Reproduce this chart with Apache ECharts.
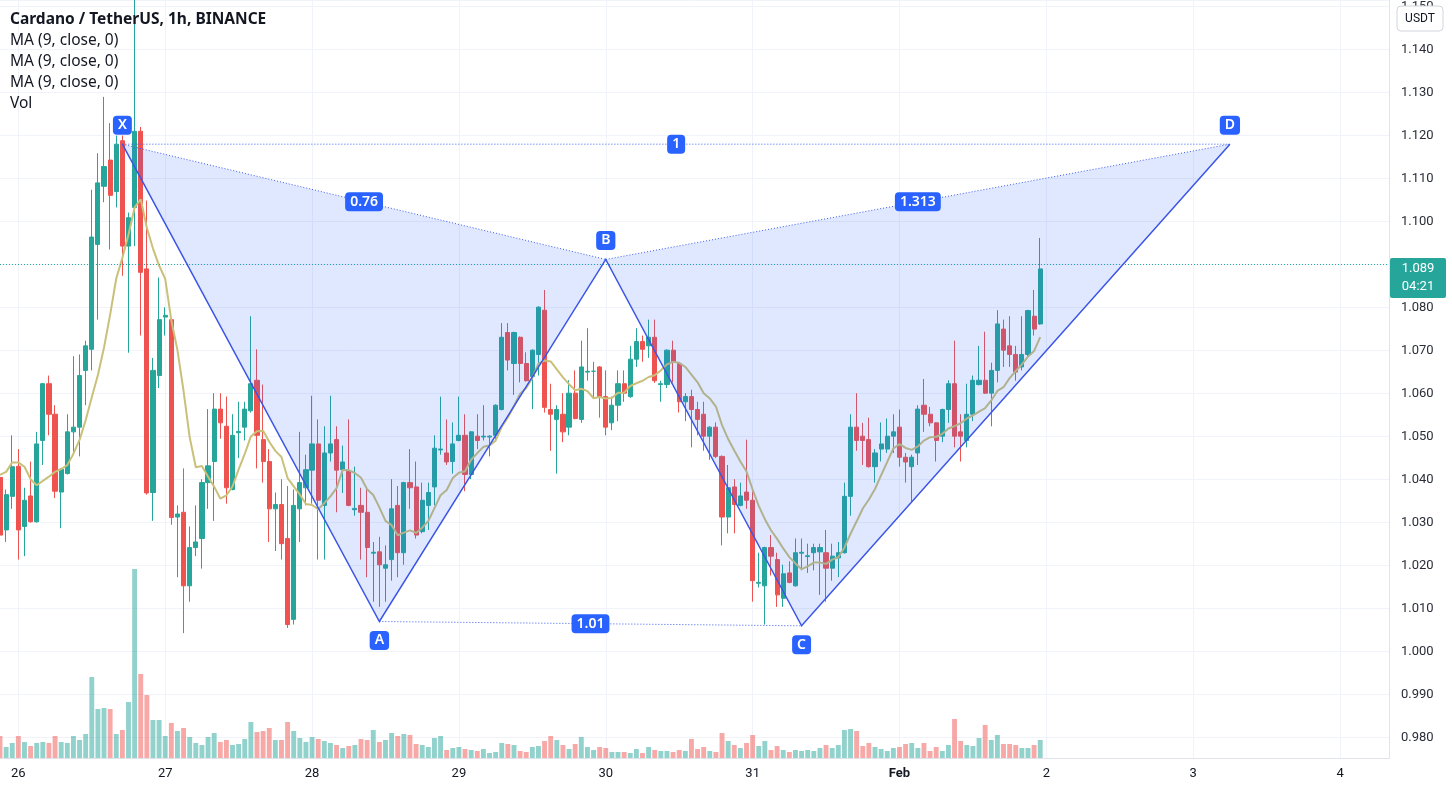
<!DOCTYPE html>
<html><head><meta charset="utf-8">
<script src="https://cdn.jsdelivr.net/npm/echarts@6/dist/echarts.min.js"></script>
<style>html,body{margin:0;padding:0;background:#fff}#c{width:1452px;height:792px}</style>
</head><body><div id="c"></div>
<script>
// ---- data (1h candles, Jan 25 21:00 -> Feb 1 23:00) ----
const opens = [1.0405,1.0283,1.0361,1.0431,1.0291,1.0362,1.0302,1.0491,1.0623,1.0552,
1.0371,1.0414,1.0511,1.0522,1.0654,1.0703,1.0947,1.1082,1.1143,1.1070,
1.1188,1.0943,1.1033,1.1210,1.0890,1.0370,1.0642,1.0778,1.0772,1.0313,
1.0324,1.0153,1.0242,1.0263,1.0393,1.0442,1.0564,1.0524,1.0377,1.0509,
1.0522,1.0560,1.0631,1.0493,1.0442,1.0332,1.0342,1.0263,1.0075,1.0332,
1.0381,1.0422,1.0483,1.0340,1.0462,1.0493,1.0423,1.0419,1.0330,1.0340,
1.0324,1.0229,1.0232,1.0194,1.0214,1.0340,1.0230,1.0393,1.0383,1.0279,
1.0340,1.0383,1.0469,1.0462,1.0442,1.0491,1.0503,1.0412,1.0501,1.0499,
1.0499,1.0503,1.0563,1.0742,1.0670,1.0731,1.0670,1.0640,1.0691,1.0794,
1.0563,1.0540,1.0552,1.0522,1.0601,1.0540,1.0650,1.0652,1.0662,1.0593,
1.0532,1.0573,1.0623,1.0593,1.0680,1.0721,1.0711,1.0731,1.0621,1.0621,
1.0701,1.0670,1.0581,1.0593,1.0563,1.0552,1.0501,1.0522,1.0454,1.0313,
1.0383,1.0340,1.0371,1.0352,1.0159,1.0153,1.0242,1.0214,1.0124,1.0183,
1.0153,1.0229,1.0221,1.0230,1.0232,1.0230,1.0194,1.0218,1.0230,1.0361,
1.0522,1.0501,1.0493,1.0430,1.0471,1.0471,1.0501,1.0522,1.0452,1.0430,
1.0462,1.0573,1.0552,1.0532,1.0501,1.0563,1.0623,1.0511,1.0491,1.0552,
1.0621,1.0631,1.0601,1.0654,1.0750,1.0711,1.0691,1.0662,1.0691,1.0780,
1.0762];
const closes = [1.0271,1.0365,1.0430,1.0283,1.0352,1.0302,1.0483,1.0623,1.0552,1.0373,
1.0424,1.0511,1.0522,1.0642,1.0711,1.0964,1.1090,1.1128,1.1061,1.1180,
1.0943,1.1009,1.1210,1.0882,1.0369,1.0654,1.0772,1.0782,1.0312,1.0320,
1.0153,1.0242,1.0255,1.0393,1.0432,1.0564,1.0532,1.0381,1.0503,1.0512,
1.0564,1.0623,1.0503,1.0442,1.0332,1.0342,1.0251,1.0063,1.0340,1.0393,
1.0423,1.0483,1.0352,1.0462,1.0483,1.0422,1.0441,1.0340,1.0333,1.0324,
1.0242,1.0231,1.0202,1.0202,1.0332,1.0230,1.0393,1.0381,1.0271,1.0352,
1.0370,1.0473,1.0471,1.0441,1.0483,1.0503,1.0412,1.0511,1.0491,1.0501,
1.0501,1.0573,1.0731,1.0678,1.0742,1.0670,1.0630,1.0701,1.0801,1.0568,
1.0552,1.0563,1.0511,1.0601,1.0542,1.0662,1.0652,1.0652,1.0593,1.0522,
1.0573,1.0623,1.0601,1.0680,1.0721,1.0703,1.0731,1.0630,1.0623,1.0701,
1.0674,1.0581,1.0593,1.0563,1.0540,1.0501,1.0522,1.0454,1.0313,1.0381,
1.0342,1.0362,1.0352,1.0165,1.0161,1.0242,1.0222,1.0132,1.0181,1.0161,
1.0230,1.0231,1.0223,1.0242,1.0242,1.0194,1.0222,1.0230,1.0361,1.0522,
1.0491,1.0491,1.0430,1.0462,1.0483,1.0501,1.0511,1.0452,1.0441,1.0452,
1.0564,1.0552,1.0532,1.0491,1.0563,1.0623,1.0501,1.0501,1.0552,1.0631,
1.0631,1.0601,1.0654,1.0762,1.0701,1.0691,1.0650,1.0691,1.0793,1.0750,
1.0890];
const lows = [1.0214,1.0255,1.0332,1.0214,1.0222,1.0300,1.0300,1.0434,1.0503,1.0357,
1.0287,1.0412,1.0458,1.0454,1.0573,1.0654,1.0772,1.1045,1.0935,1.1033,
1.0874,1.0695,1.0943,1.0735,1.0365,1.0304,1.0613,1.0735,1.0295,1.0173,
1.0043,1.0116,1.0222,1.0193,1.0332,1.0304,1.0495,1.0344,1.0375,1.0450,
1.0491,1.0556,1.0426,1.0393,1.0255,1.0234,1.0214,1.0055,1.0063,1.0255,
1.0340,1.0344,1.0214,1.0214,1.0442,1.0324,1.0369,1.0338,1.0316,1.0214,
1.0173,1.0116,1.0104,1.0116,1.0165,1.0173,1.0202,1.0332,1.0263,1.0275,
1.0283,1.0340,1.0458,1.0434,1.0414,1.0489,1.0373,1.0401,1.0471,1.0491,
1.0454,1.0491,1.0561,1.0654,1.0597,1.0626,1.0628,1.0564,1.0642,1.0556,
1.0467,1.0414,1.0487,1.0503,1.0540,1.0532,1.0630,1.0589,1.0544,1.0503,
1.0515,1.0536,1.0581,1.0590,1.0662,1.0674,1.0683,1.0625,1.0581,1.0613,
1.0626,1.0556,1.0536,1.0475,1.0503,1.0467,1.0446,1.0450,1.0247,1.0275,
1.0275,1.0338,1.0332,1.0116,1.0149,1.0063,1.0177,1.0104,1.0104,1.0159,
1.0151,1.0189,1.0183,1.0189,1.0132,1.0116,1.0165,1.0173,1.0228,1.0316,
1.0467,1.0434,1.0428,1.0393,1.0442,1.0462,1.0462,1.0430,1.0393,1.0348,
1.0434,1.0511,1.0524,1.0442,1.0487,1.0532,1.0475,1.0442,1.0475,1.0536,
1.0619,1.0599,1.0524,1.0626,1.0662,1.0662,1.0630,1.0654,1.0687,1.0735,
1.0760];
const highs = [1.0418,1.0377,1.0503,1.0471,1.0381,1.0442,1.0511,1.0625,1.0642,1.0573,
1.0426,1.0552,1.0687,1.0691,1.0723,1.1074,1.1159,1.1290,1.1229,1.1200,
1.1200,1.1021,1.1600,1.1220,1.1049,1.0683,1.0870,1.0801,1.0775,1.0340,
1.0426,1.0291,1.0340,1.0401,1.0564,1.0601,1.0601,1.0593,1.0552,1.0581,
1.0581,1.0780,1.0703,1.0621,1.0471,1.0370,1.0401,1.0385,1.0377,1.0511,
1.0458,1.0595,1.0540,1.0524,1.0595,1.0524,1.0479,1.0540,1.0430,1.0381,
1.0377,1.0255,1.0267,1.0247,1.0401,1.0385,1.0395,1.0471,1.0442,1.0393,
1.0393,1.0503,1.0593,1.0540,1.0533,1.0593,1.0552,1.0513,1.0552,1.0573,
1.0503,1.0575,1.0764,1.0764,1.0744,1.0733,1.0696,1.0703,1.0803,1.0841,
1.0623,1.0573,1.0601,1.0631,1.0654,1.0723,1.0752,1.0674,1.0664,1.0654,
1.0593,1.0654,1.0654,1.0711,1.0752,1.0735,1.0772,1.0772,1.0630,1.0703,
1.0723,1.0672,1.0601,1.0609,1.0581,1.0581,1.0524,1.0533,1.0456,1.0434,
1.0401,1.0393,1.0493,1.0373,1.0230,1.0244,1.0271,1.0230,1.0202,1.0210,
1.0263,1.0263,1.0251,1.0251,1.0251,1.0283,1.0251,1.0255,1.0393,1.0552,
1.0601,1.0532,1.0544,1.0471,1.0533,1.0542,1.0552,1.0563,1.0462,1.0458,
1.0573,1.0634,1.0569,1.0533,1.0565,1.0631,1.0723,1.0552,1.0623,1.0642,
1.0711,1.0744,1.0672,1.0794,1.0772,1.0780,1.0711,1.0780,1.0795,1.0841,
1.0962];
// volume, millions ADA
const volumes = [2.2,1.1,1.5,2.2,1.6,1.2,1.5,1.6,1.5,2.2,
1.6,1.5,2.2,1.8,2.4,8.1,4.9,5.0,4.9,2.4,
2.8,5.6,18.9,8.4,6.3,3.8,3.8,2.2,3.5,2.7,
3.0,2.1,1.5,1.3,2.1,2.5,1.6,1.8,1.3,1.4,
1.9,3.6,2.6,2.7,3.0,1.8,1.8,3.6,2.7,2.0,
1.6,2.1,1.9,1.7,1.5,1.3,1.0,1.2,1.3,1.9,
1.8,2.8,1.6,1.8,2.5,2.2,2.4,2.3,1.4,1.3,
1.1,2.0,2.2,0.8,1.0,1.1,0.9,0.8,0.7,0.9,
0.5,0.6,1.5,1.4,1.3,0.7,0.6,1.1,1.2,1.7,
2.2,1.8,1.3,0.9,1.4,2.1,1.1,0.8,1.1,1.0,
0.6,0.6,0.6,0.5,0.9,0.5,1.1,0.8,0.7,0.7,
0.6,0.8,0.7,1.9,0.9,1.1,0.7,0.6,2.5,1.7,
1.3,1.0,1.5,2.3,1.2,1.7,0.8,1.2,0.8,0.6,
0.8,0.7,0.8,0.7,1.0,1.3,1.0,1.3,2.8,2.9,
2.7,1.2,1.5,1.1,0.9,0.7,1.0,1.1,1.4,1.5,
1.0,1.5,0.7,1.1,0.7,1.3,3.9,1.7,1.3,1.2,
2.0,3.3,1.8,2.3,1.4,1.4,1.3,1.0,1.0,1.3,
1.8];
// MA(9) values for the first 8 bars (history before the visible window)
const maLead = [1.0411,1.0418,1.0440,1.0440,1.0430,1.0401,1.0387,1.0397];
// XABCD pattern
const patternNames = ['X','A','B','C','D'];
const patternIdx = [20, 62, 99, 131, 201];
const patternPrice = [1.1180, 1.0070, 1.0912, 1.0060, 1.1180];
const ratioLabels = ['0.76', '1', '1.313', '1.01']; // XB, XD, BD, AC
const monthNames = ['Jan','Feb','Mar','Apr','May','Jun','Jul','Aug','Sep','Oct','Nov','Dec'];
const legendLines = ['Cardano / TetherUS, 1h, BINANCE','MA (9, close, 0)','MA (9, close, 0)','MA (9, close, 0)','Vol'];
const countdown = '04:21';

// ---- build ----
const UP = '#26a69a', DOWN = '#ef5350';
const categories = [];
const start = Date.UTC(2022, 0, 25, 21);
const pad = n => (n < 10 ? '0' : '') + n;
for (let k = 0; k < 228; k++) {
  const d = new Date(start + k * 3600000);
  categories.push((d.getUTCMonth() + 1) + '/' + d.getUTCDate() + ' ' + pad(d.getUTCHours()) + ':00');
}
const candles = opens.map((o, i) => [o, closes[i], lows[i], highs[i]]);
const vols = volumes.map((v, i) => ({ value: v, itemStyle: { color: closes[i] >= opens[i] ? 'rgba(38,166,154,0.5)' : 'rgba(239,83,80,0.5)' } }));
const ma = closes.map((c, i) => i < 8 ? maLead[i] : +(closes.slice(i - 8, i + 1).reduce((a, b) => a + b, 0) / 9).toFixed(5));
const lastClose = closes[closes.length - 1];
const isMidnight = (i, v) => v.endsWith(' 00:00');
const GRID_RIGHT = 63;
const FONT = '"Noto Sans", sans-serif';

const chart = echarts.init(document.getElementById('c'));
const option = {
  animation: false,
  backgroundColor: '#ffffff',
  grid: { left: -1.4, right: GRID_RIGHT, top: 0, bottom: 34 },
  xAxis: {
    type: 'category', data: categories, boundaryGap: false,
    axisLine: { show: true, lineStyle: { color: '#e0e3eb' } },
    axisTick: { show: false },
    axisLabel: {
      interval: isMidnight, margin: 9, color: '#131722', fontSize: 13, fontFamily: 'Roboto',
      formatter: v => {
        const parts = v.split(' ');
        const md = parts[0].split('/');
        if (md[1] === '1') return '{b|' + monthNames[+md[0] - 1] + '}';
        return md[1];
      },
      rich: { b: { fontWeight: 'bold', fontSize: 13, fontFamily: 'Roboto', color: '#131722' } }
    },
    splitLine: { show: true, interval: isMidnight, lineStyle: { color: '#f0f3fa', width: 1 } }
  },
  yAxis: [{
    type: 'value', position: 'right', scale: true,
    min: 0.97526, max: 1.15153, minInterval: 0.01, maxInterval: 0.01, splitNumber: 18,
    axisLine: { show: true, lineStyle: { color: '#e0e3eb' } },
    axisTick: { show: false },
    axisLabel: { showMinLabel: false, showMaxLabel: false, margin: 12, color: '#2a2e39', fontSize: 13, fontFamily: 'Roboto', formatter: v => v.toFixed(3) },
    splitLine: { show: true, lineStyle: { color: '#f0f3fa' } }
  }, {
    type: 'value', min: 0, max: 75.8, show: false, splitLine: { show: false }
  }],
  series: [{
    type: 'bar', name: 'Vol', xAxisIndex: 0, yAxisIndex: 1, data: vols, barWidth: '80%', z: 1, silent: true
  }, {
    type: 'candlestick', name: 'ADAUSDT', data: candles, barWidth: '76%', z: 2, silent: true,
    itemStyle: { color: UP, color0: DOWN, borderColor: UP, borderColor0: DOWN, borderWidth: 1 },
    markLine: {
      silent: true, symbol: ['none', 'none'], label: { show: false },
      lineStyle: { type: [1, 2], color: '#26a69a', width: 1 },
      data: [{ yAxis: lastClose }]
    }
  }, {
    type: 'line', name: 'MA', data: ma, showSymbol: false, smooth: false, z: 3, silent: true,
    lineStyle: { color: '#c9c07a', width: 2 }
  }, {
    type: 'custom', name: 'XABCD', z: 5, silent: true,
    data: patternIdx.map((x, i) => [x, patternPrice[i]]),
    renderItem: (params, api) => {
      if (params.dataIndex !== 0) return null;
      const p = patternIdx.map((x, i) => api.coord([x, patternPrice[i]]));
      const [X, A, B, C, D] = p;
      const fill = 'rgba(41,98,255,0.15)';
      const solid = '#3b55e6';
      const dot = '#3b5cf0';
      const mid = (a, b) => [(a[0] + b[0]) / 2, (a[1] + b[1]) / 2];
      const dotted = (a, b) => ({ type: 'line', shape: { x1: a[0], y1: a[1], x2: b[0], y2: b[1] }, style: { stroke: dot, lineWidth: 1, lineDash: [1, 2] } });
      const tag = (txt, pt, dy) => ({
        type: 'text', x: pt[0], y: pt[1] + dy, z2: 10,
        style: { text: txt, fill: '#ffffff', font: '600 14px ' + FONT, align: 'center', verticalAlign: 'middle',
          backgroundColor: '#2962ff', padding: [3, 5, 2, 5], borderRadius: 4 }
      });
      const dirs = [-1, 1, -1, 1, -1];
      const children = [
        { type: 'polygon', shape: { points: [X, A, B] }, style: { fill: fill } },
        { type: 'polygon', shape: { points: [B, C, D] }, style: { fill: fill } },
        dotted(X, B), dotted(X, D), dotted(B, D), dotted(A, C),
        { type: 'polyline', shape: { points: [X, A, B, C, D] }, style: { stroke: solid, lineWidth: 1.5, fill: null } },
        tag(ratioLabels[0], mid(X, B), 0),
        tag(ratioLabels[1], mid(X, D), 0),
        tag(ratioLabels[2], mid(B, D), 0),
        tag(ratioLabels[3], mid(A, C), 0)
      ];
      p.forEach((pt, i) => children.push(tag(patternNames[i], pt, dirs[i] * 19)));
      return { type: 'group', children: children };
    }
  }],
  graphic: legendLines.map((t, i) => ({
    id: 'lg' + i, type: 'text', x: 10, y: 20 + i * 21, z: 100,
    style: { text: t, fill: '#131722', font: (i === 0 ? 'bold ' : '') + '15.5px ' + FONT, verticalAlign: 'middle' }
  }))
};
chart.setOption(option);

const axisX = 1452 - GRID_RIGHT;
const yLast = chart.convertToPixel({ yAxisIndex: 0 }, lastClose);
chart.setOption({
  graphic: [
    { id: 'usdt', type: 'rect', z: 100, shape: { x: axisX + 8, y: 6, width: 46, height: 25, r: 4 },
      style: { fill: '#ffffff', stroke: '#d1d4dc', lineWidth: 1 } },
    { id: 'usdtT', type: 'text', z: 101, x: axisX + 31, y: 18.5,
      style: { text: 'USDT', fill: '#131722', font: '12px Roboto', align: 'center', verticalAlign: 'middle' } },
    { id: 'pl', type: 'rect', z: 100, shape: { x: axisX + 1, y: yLast - 11, width: 56, height: 40, r: 2 },
      style: { fill: '#26a69a' } },
    { id: 'plT1', type: 'text', z: 101, x: axisX + 29, y: yLast,
      style: { text: lastClose.toFixed(3), fill: '#ffffff', font: '13px Roboto', align: 'center', verticalAlign: 'middle' } },
    { id: 'plT2', type: 'text', z: 101, x: axisX + 29, y: yLast + 18,
      style: { text: countdown, fill: '#ffffff', font: '13px Roboto', align: 'center', verticalAlign: 'middle' } }
  ]
});
</script>
</body></html>
